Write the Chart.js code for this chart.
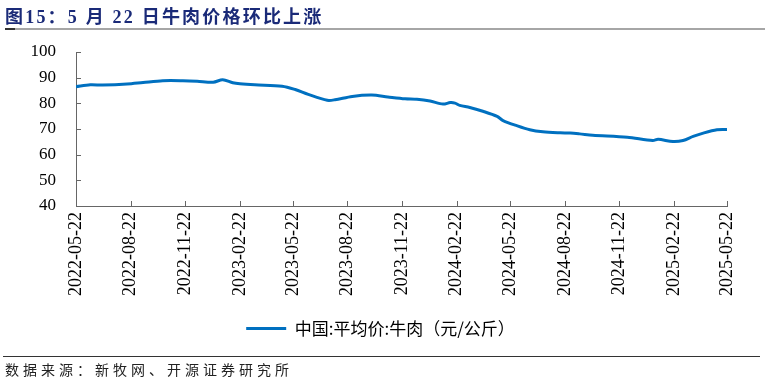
<!DOCTYPE html>
<html><head><meta charset="utf-8">
<script src="https://cdn.jsdelivr.net/npm/chart.js@4.4.1/dist/chart.umd.min.js"></script>
<style>
html,body{margin:0;padding:0;background:#fff;}
#wrap{position:relative;width:765px;height:383px;overflow:hidden;}
#title{position:absolute;left:5px;top:2px;font:bold 18px "Liberation Serif","Noto Sans CJK SC";color:#1a2a78;white-space:pre;letter-spacing:2.2px;}
#tline{position:absolute;left:5px;top:28px;width:760px;height:2px;background:#a6a6a6;}
#tmark{position:absolute;left:5px;top:28px;width:10px;height:2px;background:#333;}
#bline{position:absolute;left:3px;top:356px;width:757px;height:1px;background:#333;}
#src{position:absolute;left:5px;top:359px;font:14px "Noto Sans CJK SC";letter-spacing:4px;color:#222;white-space:pre;}
canvas{position:absolute;left:0;top:0;}
</style></head>
<body><div id="wrap">
<canvas id="c" width="765" height="383"></canvas>
<div id="title">图15：5 月 22 日牛肉价格环比上涨</div>
<div id="tline"></div><div id="tmark"></div>
<div id="bline"></div>
<div id="src">数据来源：新牧网、开源证券研究所</div>
</div>
<script>
const START = '2022-05-22';
const tickLabels = ['2022-05-22','2022-08-22','2022-11-22','2023-02-22','2023-05-22','2023-08-22','2023-11-22','2024-02-22','2024-05-22','2024-08-22','2024-11-22','2025-02-22','2025-05-22'];
const yTicks = [40,50,60,70,80,90,100];
const dates = ['2022-05-22','2022-06-15','2022-07-06','2022-08-16','2022-09-12','2022-10-15','2022-11-18','2022-12-12','2023-01-08','2023-01-24','2023-02-10','2023-02-22','2023-03-19','2023-05-04','2023-05-26','2023-06-17','2023-07-19','2023-08-01','2023-08-30','2023-10-02','2023-10-29','2023-11-27','2023-12-17','2024-01-08','2024-01-30','2024-02-11','2024-02-19','2024-02-27','2024-03-15','2024-04-06','2024-04-30','2024-05-10','2024-06-02','2024-06-24','2024-07-16','2024-08-14','2024-08-31','2024-09-16','2024-10-08','2024-12-05','2025-01-17','2025-01-26','2025-02-20','2025-03-09','2025-03-26','2025-04-12','2025-05-05','2025-05-22'];
const beefPrice = [86.5,87.2,87.1,87.5,88.1,88.8,88.8,88.6,88.2,89.2,88.0,87.6,87.2,86.7,85.4,83.5,81.2,81.4,82.7,83.2,82.5,81.8,81.6,80.9,79.7,80.3,80.1,79.2,78.4,76.9,74.9,73.3,71.3,69.7,68.9,68.5,68.4,68.1,67.6,66.8,65.5,66.0,65.1,65.5,67.1,68.4,69.7,69.8];
const seriesName = '中国:平均价:牛肉（元/公斤）';

const dayOf = d => (Date.parse(d) - Date.parse(START)) / 86400000;
const points = dates.map((d, i) => ({x: dayOf(d), y: beefPrice[i]}));
const tickDays = tickLabels.map(dayOf);

const innerTicks = {
  id: 'innerTicks',
  afterLayout(chart) {
    if (chart.legend) { chart.legend.left += 17; chart.legend.right += 17; }
  },
  afterDraw(chart) {
    const {ctx, scales: {x, y}, chartArea: a} = chart;
    ctx.save();
    ctx.strokeStyle = '#666'; ctx.lineWidth = 1;
    ctx.beginPath();
    y.ticks.forEach(t => { const p = Math.round(y.getPixelForValue(t.value)) + 0.5; ctx.moveTo(a.left, p); ctx.lineTo(a.left + 5, p); });
    x.ticks.forEach(t => { const p = Math.round(x.getPixelForValue(t.value)) + 0.5; ctx.moveTo(p, a.bottom); ctx.lineTo(p, a.bottom - 5); });
    ctx.stroke();
    ctx.restore();
  }
};

new Chart(document.getElementById('c'), {
  type: 'line',
  data: {datasets: [{label: seriesName, data: points, borderColor: '#0070C0', backgroundColor: '#0070C0', borderWidth: 3, pointRadius: 0, tension: 0.3, fill: false}]},
  options: {
    responsive: false, animation: false,
    layout: {padding: {left: 0, right: 38, top: 52, bottom: 36}},
    scales: {
      x: {
        type: 'linear', min: tickDays[0], max: tickDays[tickDays.length - 1],
        afterBuildTicks: s => { s.ticks = tickDays.map(v => ({value: v})); },
        ticks: {autoSkip: false, maxRotation: 90, minRotation: 90, padding: 6, font: {family: 'Liberation Serif', size: 18}, color: '#000',
          callback: v => { const i = tickDays.indexOf(v); return i >= 0 ? tickLabels[i] : ''; }},
        grid: {drawOnChartArea: false, drawTicks: false},
        border: {color: '#666', width: 1},
        afterFit: s => { s.height = 104; }
      },
      y: {
        min: yTicks[0], max: yTicks[yTicks.length - 1],
        afterBuildTicks: s => { s.ticks = yTicks.map(v => ({value: v})); },
        ticks: {padding: 20, font: {family: 'Liberation Serif', size: 17}, color: '#000'},
        grid: {drawOnChartArea: false, drawTicks: false},
        border: {color: '#666', width: 1},
        afterFit: s => { s.width = 76; }
      }
    },
    plugins: {
      legend: {position: 'bottom', labels: {boxWidth: 40, boxHeight: 3, font: {family: 'Noto Sans CJK SC', size: 17}, color: '#000',
        generateLabels: ch => Chart.defaults.plugins.legend.labels.generateLabels(ch).map(l => Object.assign(l, {lineWidth: 0}))}},
      tooltip: {enabled: false}
    }
  },
  plugins: [innerTicks]
});
</script>
</body></html>
